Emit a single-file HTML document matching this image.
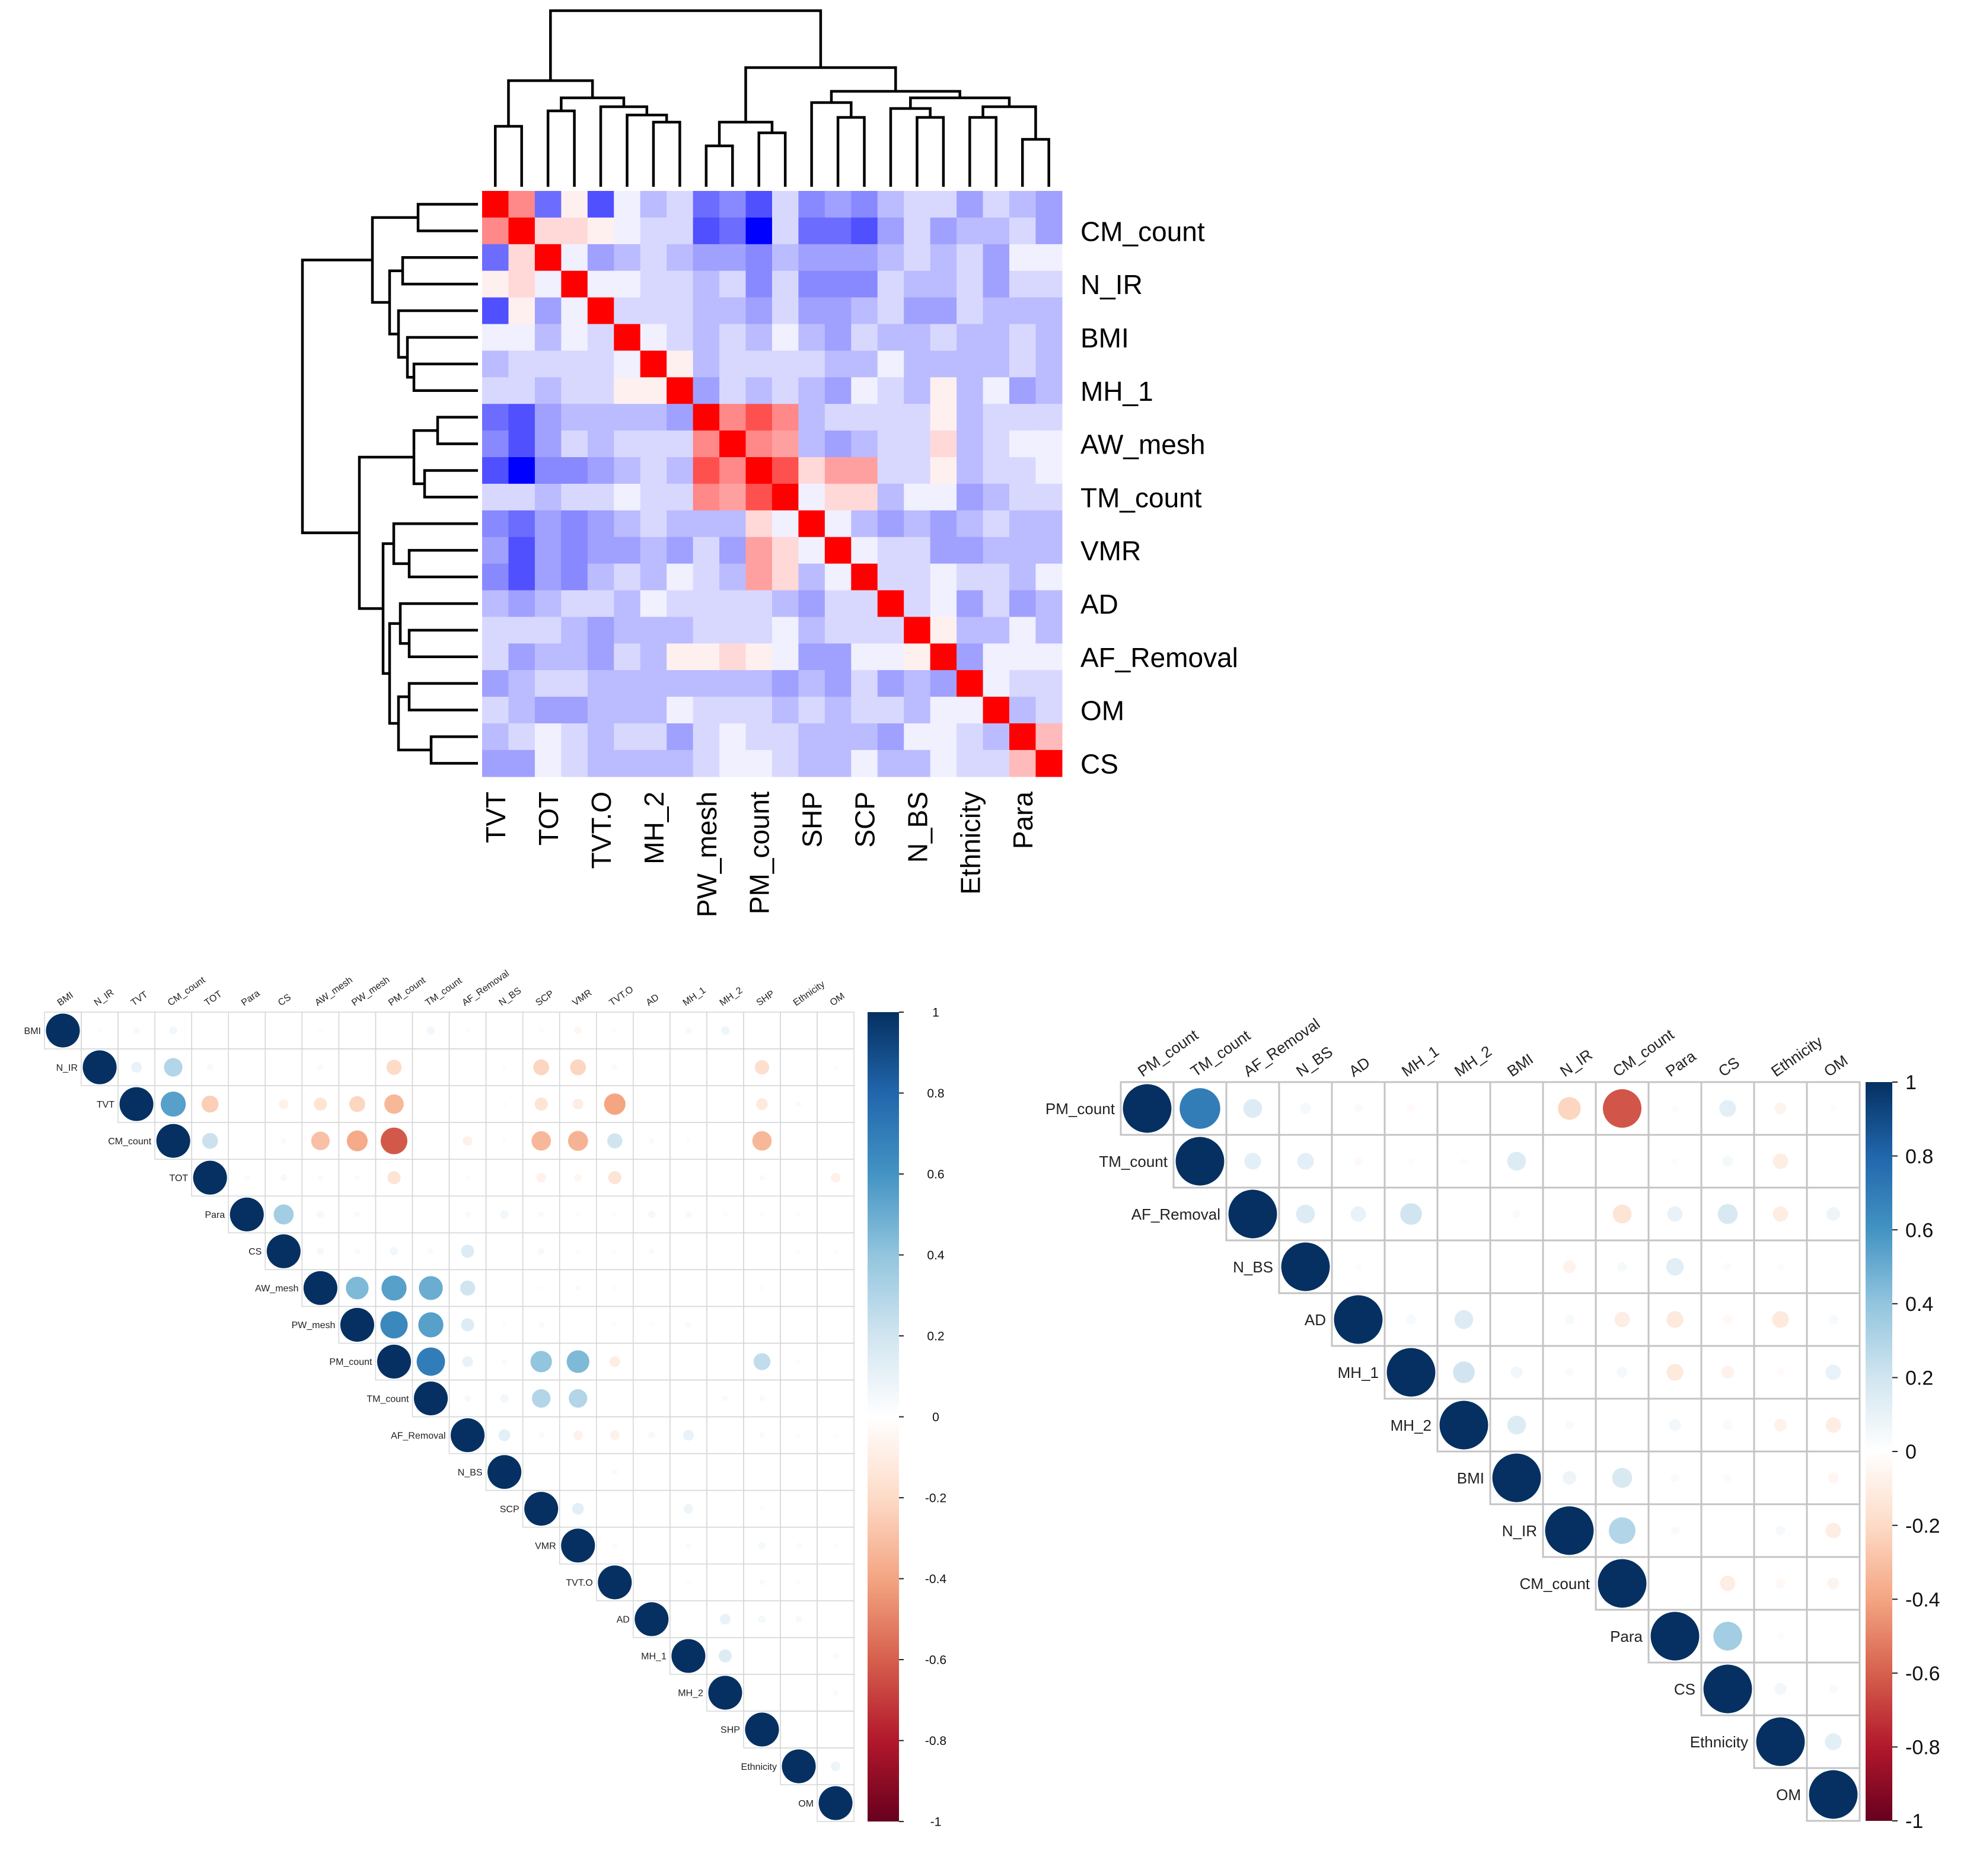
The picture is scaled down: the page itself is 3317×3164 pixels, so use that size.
<!DOCTYPE html>
<html><head><meta charset="utf-8"><style>
html,body{margin:0;padding:0;background:#fff;}
svg{display:block;}
text{font-family:"Liberation Sans",sans-serif;}
</style></head><body>
<svg id="root" xmlns="http://www.w3.org/2000/svg" width="3317" height="3164">
<defs>
<linearGradient id="cbar" x1="0" y1="0" x2="0" y2="1">
<stop offset="0" stop-color="#053061"/><stop offset="0.1" stop-color="#2166AC"/><stop offset="0.2" stop-color="#4393C3"/><stop offset="0.3" stop-color="#92C5DE"/><stop offset="0.4" stop-color="#D1E5F0"/><stop offset="0.5" stop-color="#FFFFFF"/><stop offset="0.6" stop-color="#FDDBC7"/><stop offset="0.7" stop-color="#F4A582"/><stop offset="0.8" stop-color="#D6604D"/><stop offset="0.9" stop-color="#B2182B"/><stop offset="1" stop-color="#67001F"/>
</linearGradient>
</defs>
<g id="heat"></g>
<g id="dendT"></g>
<g id="dendL"></g>
<g id="cpL"></g>
<g id="cpR"></g>
</svg>
<script>
const NS="http://www.w3.org/2000/svg";
function mk(tag,attrs,parent){const e=document.createElementNS(NS,tag);for(const k in attrs)e.setAttribute(k,attrs[k]);parent.appendChild(e);return e;}

// ===== Heatmap data =====
const heatRowLabels=["","CM_count","","N_IR","","BMI","","MH_1","","AW_mesh","","TM_count","","VMR","","AD","","AF_Removal","","OM","","CS"];
const heatColLabels=["TVT","","TOT","","TVT.O","","MH_2","","PW_mesh","","PM_count","","SHP","","SCP","","N_BS","","Ethnicity","","Para",""];
const heatValues=[
[1,.5,-.6,.1,-.7,-.1,-.3,-.2,-.6,-.5,-.7,-.2,-.5,-.4,-.5,-.3,-.2,-.2,-.4,-.2,-.3,-.4],
[.5,1,.2,.2,.1,-.1,-.2,-.2,-.7,-.6,-1,-.2,-.6,-.6,-.7,-.4,-.2,-.4,-.3,-.3,-.2,-.4],
[-.6,.2,1,-.1,-.4,-.3,-.2,-.3,-.4,-.4,-.5,-.3,-.4,-.4,-.4,-.3,-.2,-.3,-.2,-.4,-.1,-.1],
[.1,.2,-.1,1,-.1,-.1,-.2,-.2,-.3,-.2,-.5,-.2,-.5,-.5,-.5,-.2,-.3,-.3,-.2,-.4,-.2,-.2],
[-.7,.1,-.4,-.1,1,-.2,-.2,-.2,-.3,-.3,-.4,-.2,-.4,-.4,-.3,-.2,-.4,-.4,-.2,-.3,-.3,-.3],
[-.1,-.1,-.3,-.1,-.2,1,-.1,-.2,-.3,-.2,-.3,-.1,-.3,-.4,-.2,-.3,-.3,-.2,-.3,-.3,-.2,-.3],
[-.3,-.2,-.2,-.2,-.2,-.1,1,.1,-.3,-.2,-.2,-.2,-.2,-.3,-.3,-.1,-.3,-.3,-.3,-.3,-.2,-.3],
[-.2,-.2,-.3,-.2,-.2,.1,.1,1,-.4,-.2,-.3,-.2,-.3,-.4,-.1,-.2,-.3,.1,-.3,-.1,-.4,-.3],
[-.6,-.7,-.4,-.3,-.3,-.3,-.3,-.4,1,.5,.7,.5,-.3,-.2,-.2,-.2,-.2,.1,-.3,-.2,-.2,-.2],
[-.5,-.7,-.4,-.2,-.3,-.2,-.2,-.2,.5,1,.5,.4,-.3,-.4,-.3,-.2,-.2,.2,-.3,-.2,-.1,-.1],
[-.7,-1,-.5,-.5,-.4,-.3,-.2,-.3,.7,.5,1,.7,.2,.4,.4,-.2,-.2,.1,-.3,-.2,-.2,-.1],
[-.2,-.2,-.3,-.2,-.2,-.1,-.2,-.2,.5,.4,.7,1,-.1,.2,.2,-.3,-.1,-.1,-.4,-.3,-.2,-.2],
[-.5,-.6,-.4,-.5,-.4,-.3,-.2,-.3,-.3,-.3,.2,-.1,1,-.1,-.3,-.4,-.3,-.4,-.3,-.2,-.3,-.3],
[-.4,-.7,-.4,-.5,-.4,-.4,-.3,-.4,-.2,-.4,.4,.2,-.1,1,-.1,-.2,-.2,-.4,-.4,-.3,-.3,-.3],
[-.5,-.7,-.4,-.5,-.3,-.2,-.3,-.1,-.2,-.3,.4,.2,-.3,-.1,1,-.2,-.2,-.1,-.2,-.2,-.3,-.1],
[-.3,-.4,-.3,-.2,-.2,-.3,-.1,-.2,-.2,-.2,-.2,-.3,-.4,-.2,-.2,1,-.2,-.1,-.4,-.2,-.4,-.3],
[-.2,-.2,-.2,-.3,-.4,-.3,-.3,-.3,-.2,-.2,-.2,-.1,-.3,-.2,-.2,-.2,1,.1,-.3,-.3,-.1,-.3],
[-.2,-.4,-.3,-.3,-.4,-.2,-.3,.1,.1,.2,.1,-.1,-.4,-.4,-.1,-.1,.1,1,-.4,-.1,-.1,-.1],
[-.4,-.3,-.2,-.2,-.3,-.3,-.3,-.3,-.3,-.3,-.3,-.4,-.3,-.4,-.2,-.4,-.3,-.4,1,-.1,-.2,-.2],
[-.2,-.3,-.4,-.4,-.3,-.3,-.3,-.1,-.2,-.2,-.2,-.3,-.2,-.3,-.2,-.2,-.3,-.1,-.1,1,-.3,-.2],
[-.3,-.2,-.1,-.2,-.3,-.2,-.2,-.4,-.2,-.1,-.2,-.2,-.3,-.3,-.3,-.4,-.1,-.1,-.2,-.3,1,.3],
[-.4,-.4,-.1,-.2,-.3,-.3,-.3,-.3,-.2,-.1,-.1,-.2,-.3,-.3,-.1,-.3,-.3,-.1,-.2,-.2,.3,1]
];
const dendMerges=[[0,1],[2,3],[6,7],[5,24],[4,25],[23,26],[22,27],[8,9],[10,11],[29,30],[13,14],[12,32],[16,17],[15,34],[18,19],[20,21],[36,37],[35,38],[33,39],[31,40],[28,41]];
const dendTopHeights=[213,187,206,194,180,165,136,246,224,206,198,173,198,183,198,235,180,165,154,114,18];
const dendLeftHeights=[705,679,698,687,672,657,628,738,716,698,690,664,690,675,690,727,672,657,646,606,510];

// ===== Corrplot data =====
const leftVars=["BMI","N_IR","TVT","CM_count","TOT","Para","CS","AW_mesh","PW_mesh","PM_count","TM_count","AF_Removal","N_BS","SCP","VMR","TVT.O","AD","MH_1","MH_2","SHP","Ethnicity","OM"];
const leftUpper=[
[.02,.04,.06,0,0,0,.02,0,0,.06,.02,0,.02,-.05,.02,0,.04,.07,0,0,.01],
[.1,.3,.04,0,0,.03,0,-.2,0,0,.02,-.22,-.22,.03,0,0,0,-.18,0,.02],
[.55,-.25,0,-.08,-.15,-.22,-.33,0,0,.02,-.15,-.1,-.4,0,.01,0,-.12,.03,.01],
[.22,0,.03,-.3,-.38,-.62,0,-.08,.02,-.33,-.35,.2,.03,.02,0,-.33,0,.01],
[.03,.04,.03,-.03,-.15,0,.02,0,-.08,-.05,-.15,0,0,0,.03,0,-.08],
[.35,.05,.03,0,0,.03,.06,.03,.02,.02,.05,.04,.02,.02,.02,.01],
[.05,.03,.06,.03,.15,0,.04,.02,.02,.03,0,0,0,.02,.02],
[.45,.55,.5,.2,0,.02,.03,.02,0,0,.01,.02,0,.01],
[.65,.55,.15,.02,.03,0,.02,.02,.03,0,0,0,0],
[.7,.1,.03,.4,.45,-.1,0,0,0,.25,.02,0],
[.04,.06,.3,.3,0,.01,0,.03,.03,0,0],
[.12,.03,-.08,-.08,.04,.1,0,-.03,.02,.02],
[.01,0,.03,0,0,0,0,0,0],
[.12,0,0,.08,0,.02,.01,.01],
[-.03,0,.03,0,.05,.03,.02],
[0,.02,0,.03,.02,.01],
[0,.1,.05,.04,.01],
[.15,0,0,.03],
[0,.01,.03],
[0,0],
[.08]
];
const rightVars=["PM_count","TM_count","AF_Removal","N_BS","AD","MH_1","MH_2","BMI","N_IR","CM_count","Para","CS","Ethnicity","OM"];
const rightUpper=[
[.7,.15,.05,.03,-.03,0,.01,-.22,-.63,.02,.12,-.06,.02],
[.12,.12,-.03,.02,.02,.15,0,.01,.02,.05,-.1,.01],
[.15,.1,.2,.01,.03,.01,-.15,.1,.17,-.1,.08],
[.02,0,0,.01,-.07,.04,.13,-.03,-.02,.01],
[.04,.15,.01,.04,-.1,-.12,-.04,-.12,.04],
[.2,.06,.03,.05,-.12,-.07,-.03,.1],
[.15,.03,.01,.06,-.04,-.07,-.1],
[.08,.17,.03,-.03,.01,-.05],
[.3,.03,.01,.04,-.1],
[.01,-.1,-.04,-.06],
[.35,.02,.01],
[.06,.03],
[.12]
];
const leftTicks=[1,0.8,0.6,0.4,0.2,0,-0.2,-0.4,-0.6,-0.8,-1];
const rightTicks=[1,0.8,0.6,0.4,0.2,0,-0.2,-0.4,-0.6,-0.8,-1];

// ===== Heatmap drawing =====
const heat=document.getElementById('heat');
const HX0=813,HY0=322,HCW=44.45,HCH=44.9;
function heatX(j){return HX0+j*HCW;}
function heatY(i){return HY0+i*HCH;}
const lvl=[255,240,216,187,160,136,108,80,50,25,0];
function heatColor(v){const k=Math.min(10,Math.round(Math.abs(v)*10));const c=lvl[k];
 return v>=0?`rgb(255,${c},${c})`:`rgb(${c},${c},255)`;}
heatValues.forEach((row,i)=>row.forEach((v,j)=>{
 const r=mk('rect',{x:heatX(j),y:heatY(i),width:HCW+0.6,height:HCH+0.6,fill:heatColor(v)},heat);
 
 
}));
heatRowLabels.forEach((l,i)=>{ if(!l)return;
 const t=mk('text',{x:1822,y:heatY(i)+HCH/2+17,'font-size':46,fill:'#000'},heat);t.textContent=l;
 
 
});
heatColLabels.forEach((l,j)=>{ if(!l)return;
 const cx=heatX(j)+HCW/2+17;
 const t=mk('text',{x:cx,y:1335,'font-size':46,fill:'#000','text-anchor':'end',transform:`rotate(-90 ${cx} 1335)`},heat);t.textContent=l;
 
 
});
function drawDend(g,heights,isTop){
 const pos={},h={};
 for(let i=0;i<22;i++){pos[i]=isTop?heatX(i)+HCW/2:heatY(i)+HCH/2;h[i]=isTop?315:806;}
 dendMerges.forEach((m,k)=>{
  const id=22+k,a=m[0],b=m[1],H=heights[k];
  let d;
  if(isTop) d=`M${pos[a]},${h[a]}V${H}H${pos[b]}V${h[b]}`;
  else d=`M${h[a]},${pos[a]}H${H}V${pos[b]}H${h[b]}`;
  const p=mk('path',{d:d,fill:'none',stroke:'#000','stroke-width':4.5},g);
  
  
  pos[id]=(pos[a]+pos[b])/2;h[id]=H;
 });
}
drawDend(document.getElementById('dendT'),dendTopHeights,true);
drawDend(document.getElementById('dendL'),dendLeftHeights,false);

// ===== Corrplots =====
function rdbu(v){
 const st=[[-1,[103,0,31]],[-.8,[178,24,43]],[-.6,[214,96,77]],[-.4,[244,165,130]],[-.2,[253,219,199]],[0,[255,255,255]],[.2,[209,229,240]],[.4,[146,197,222]],[.6,[67,147,195]],[.8,[33,102,172]],[1,[5,48,97]]];
 v=Math.max(-1,Math.min(1,v));
 for(let i=0;i<st.length-1;i++){const a=st[i],b=st[i+1];if(v<=b[0]){const t=(v-a[0])/(b[0]-a[0]);
  return `rgb(${a[1].map((c,k)=>Math.round(c+(b[1][k]-c)*t)).join(',')})`;}}
 return 'rgb(5,48,97)';
}
function corrplot(g,vars,upper,X0,Y0,C,o){
 const n=vars.length;
 const cx=j=>X0+(j+0.5)*C, cy=i=>Y0+(i+0.5)*C;
 for(let i=0;i<n;i++){
  for(let j=i;j<n;j++){
   const r=mk('rect',{x:X0+j*C,y:Y0+i*C,width:C,height:C,fill:'none',stroke:o.grid,'stroke-width':o.gw},g);
   
   
  }
 }
 for(let i=0;i<n;i++){
  for(let j=i;j<n;j++){
   const v=(j===i)?1:upper[i][j-i-1];
   if(v===0)continue;
   const c=mk('circle',{cx:cx(j),cy:cy(i),r:0.46*C*Math.sqrt(Math.abs(v)),fill:rdbu(v)},g);
   
   
  }
  const t=mk('text',{x:X0+i*C-o.lpad,y:cy(i)+o.fs*0.36,'font-size':o.fs,'text-anchor':'end',fill:'#222'},g);
  t.textContent=vars[i];
  
  
  const x=cx(i)-o.fs*0.3,y=Y0-o.tpad;
  const tc=mk('text',{x:x,y:y,'font-size':o.fs,fill:'#222',transform:`rotate(${o.rot} ${x} ${y})`},g);
  tc.textContent=vars[i];
  
  
 }
 const cb=mk('rect',{x:o.cbx,y:Y0,width:o.cbw,height:n*C,fill:'url(#cbar)'},g);
 
 
 o.ticks.forEach(tv=>{
  const y=Y0+(1-tv)/2*n*C;
  const l=mk('line',{x1:o.cbx+o.cbw,x2:o.cbx+o.cbw+o.tl,y1:y,y2:y,stroke:'#222','stroke-width':2},g);
  
  
  const t=mk('text',{x:o.cbx+o.cbw+o.tlx,y:y+o.cfs*0.36,'font-size':o.cfs,'text-anchor':o.anchor,fill:'#111'},g);
  t.textContent=String(tv);
  
  
 });
}
corrplot(document.getElementById('cpL'),leftVars,leftUpper,75,1707,62.05,
 {grid:'#d6d6d6',gw:1.5,fs:16,lpad:6,tpad:10,rot:-35,cbx:1463,cbw:53,ticks:leftTicks,tl:8,tlx:62,cfs:21,anchor:'middle'});
corrplot(document.getElementById('cpR'),rightVars,rightUpper,1890,1825,89,
 {grid:'#c4c4c4',gw:3,fs:26,lpad:10,tpad:8,rot:-35,cbx:3146,cbw:45,ticks:rightTicks,tl:9,tlx:22,cfs:34,anchor:'start'});
</script>
</body></html>
